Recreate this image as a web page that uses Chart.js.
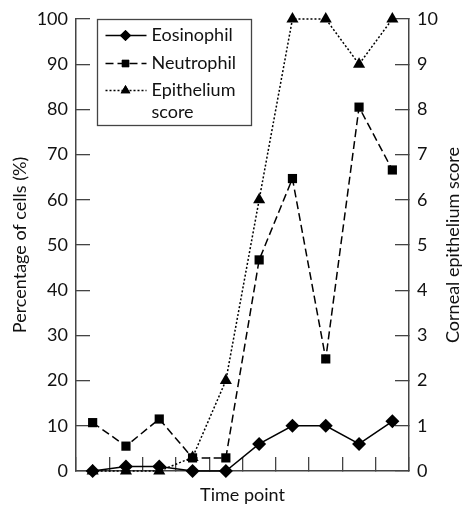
<!DOCTYPE html>
<html>
<head>
<meta charset="utf-8">
<script src="https://cdn.jsdelivr.net/npm/chart.js@4/dist/chart.umd.min.js"></script>
<style>
  html, body { margin: 0; padding: 0; background: #fff; }
  #wrap { width: 464px; height: 508px; }
</style>
</head>
<body>
<div id="wrap"><canvas id="cellChart" width="464" height="508"></canvas></div>
<script>
var timePoints = ['1', '2', '3', '4', '5', '6', '7', '8', '9', '10']
var eosinophil = [0, 1, 1, 0, 0, 6, 10, 10, 6, 11]
var neutrophil = [10.7, 5.5, 11.5, 2.9, 2.9, 46.7, 64.7, 24.8, 80.5, 66.6]
var epitheliumScore = [0, 0, 0, 0.3, 2, 6, 10, 10, 9, 10]
var percentTicks = [0, 10, 20, 30, 40, 50, 60, 70, 80, 90, 100]
var scoreTicks = [0, 1, 2, 3, 4, 5, 6, 7, 8, 9, 10]

var FONT = 'Lato, "Liberation Sans", sans-serif'
var AXIS_COLOR = '#444'

// legend with a box and a two-line label, drawn from the dataset styles
var boxLegend = {
    id: 'boxLegend',
    afterDraw: function (chart) {
        var ctx = chart.ctx
        var area = chart.chartArea
        var left = area.left + 21.5, top = area.top + 0.5
        ctx.save()
        ctx.strokeStyle = AXIS_COLOR
        ctx.lineWidth = 1.3
        ctx.strokeRect(left, top, 154, 106)
        var rows = [16, 44, 71]
        var labels = [['Eosinophil'], ['Neutrophil'], ['Epithelium', 'score']]
        ctx.font = '18px ' + FONT
        ctx.textBaseline = 'middle'
        for (var i = 0; i < chart.data.datasets.length; i++) {
            var ds = chart.data.datasets[i]
            var y = top + rows[i]
            ctx.strokeStyle = '#000'
            ctx.lineWidth = ds.borderWidth
            ctx.setLineDash(ds.borderDash || [])
            ctx.beginPath()
            ctx.moveTo(left + 8, y)
            ctx.lineTo(left + 49, y)
            ctx.stroke()
            ctx.setLineDash([])
            ctx.fillStyle = '#000'
            Chart.helpers.drawPoint(ctx, {
                pointStyle: ds.pointStyle,
                radius: ds.pointRadius * 0.8,
                borderWidth: 0,
                rotation: 0
            }, left + 28, y)
            ctx.fill()
            ctx.fillStyle = '#111'
            for (var j = 0; j < labels[i].length; j++) {
                ctx.fillText(labels[i][j], left + 54, y + j * 22)
            }
        }
        ctx.restore()
    }
}

// right axis title reads bottom-to-top like the left one
var rightTitle = {
    id: 'rightTitle',
    afterDraw: function (chart) {
        var ctx = chart.ctx
        var area = chart.chartArea
        ctx.save()
        ctx.translate(chart.width - 11, (area.top + area.bottom) / 2)
        ctx.rotate(-Math.PI / 2)
        ctx.font = '18px ' + FONT
        ctx.fillStyle = '#111'
        ctx.textAlign = 'center'
        ctx.textBaseline = 'middle'
        ctx.fillText('Corneal epithelium score', 0, 0)
        ctx.restore()
    }
}

function fixWidth(w) {
    return function (scale) {
        scale.width = w
        scale.paddingTop = 0
        scale.paddingBottom = 0
    }
}

var config_Cells = {
    type: 'line',
    data: {
        labels: timePoints,
        datasets: [
            {
                label: 'Eosinophil',
                data: eosinophil,
                yAxisID: 'y',
                borderColor: '#000',
                backgroundColor: '#000',
                borderWidth: 1.5,
                pointStyle: 'rectRot',
                pointRadius: 7,
                pointBorderWidth: 0,
                clip: false,
                order: 1
            },
            {
                label: 'Neutrophil',
                data: neutrophil,
                yAxisID: 'y',
                borderColor: '#000',
                backgroundColor: '#000',
                borderWidth: 1.5,
                borderDash: [8, 4],
                pointStyle: 'rect',
                pointRadius: 6.5,
                pointBorderWidth: 0,
                clip: false,
                order: 2
            },
            {
                label: 'Epithelium score',
                data: epitheliumScore,
                yAxisID: 'y2',
                borderColor: '#000',
                backgroundColor: '#000',
                borderWidth: 1.5,
                borderDash: [2, 2],
                pointStyle: 'triangle',
                pointRadius: 7,
                pointBorderWidth: 0,
                clip: false,
                order: 3
            }
        ]
    },
    options: {
        responsive: false,
        animation: false,
        layout: { padding: { top: 19, left: 0, right: 0, bottom: 0 } },
        plugins: {
            legend: { display: false },
            tooltip: { enabled: false }
        },
        scales: {
            x: {
                offset: true,
                grid: {
                    offset: true,
                    drawOnChartArea: false,
                    color: AXIS_COLOR,
                    tickLength: -14,
                    lineWidth: 1.3
                },
                border: { color: AXIS_COLOR, width: 1.5 },
                ticks: { display: false },
                title: {
                    display: true,
                    text: 'Time point',
                    color: '#111',
                    font: { family: FONT, size: 18 },
                    padding: { top: 0, bottom: 2 }
                },
                afterFit: function (scale) { scale.height = 37 }
            },
            y: {
                position: 'left',
                min: 0,
                max: 100,
                afterBuildTicks: function (scale) {
                    scale.ticks = percentTicks.map(function (v) { return { value: v } })
                },
                grid: {
                    drawOnChartArea: false,
                    color: AXIS_COLOR,
                    tickLength: -14,
                    lineWidth: 1.3
                },
                border: { color: AXIS_COLOR, width: 1.5 },
                ticks: {
                    color: '#111',
                    font: { family: FONT, size: 18 },
                    padding: 22
                },
                title: {
                    display: true,
                    text: 'Percentage of cells (%)',
                    color: '#111',
                    font: { family: FONT, size: 18 },
                    padding: { top: 9, bottom: 0 }
                },
                afterFit: fixWidth(76)
            },
            y2: {
                position: 'right',
                min: 0,
                max: 10,
                afterBuildTicks: function (scale) {
                    scale.ticks = scoreTicks.map(function (v) { return { value: v } })
                },
                grid: {
                    drawOnChartArea: false,
                    color: AXIS_COLOR,
                    tickLength: -14,
                    lineWidth: 1.3
                },
                border: { color: AXIS_COLOR, width: 1.5 },
                ticks: {
                    color: '#111',
                    font: { family: FONT, size: 18 },
                    padding: 22
                },
                afterFit: fixWidth(55)
            }
        }
    },
    plugins: [boxLegend, rightTitle]
}

var cellChartElement = document.getElementById('cellChart').getContext('2d')
new Chart(cellChartElement, config_Cells)
</script>
</body>
</html>
